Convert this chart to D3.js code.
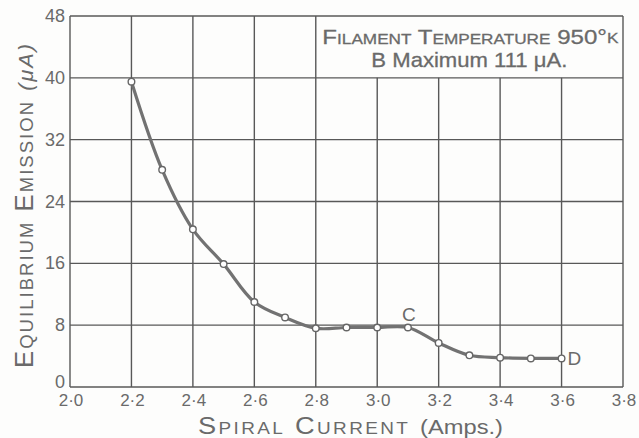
<!DOCTYPE html>
<html>
<head>
<meta charset="utf-8">
<script src="https://cdn.jsdelivr.net/npm/d3@7"></script>
<style>
  body { margin: 0; background: #fdfdfc; }
  text { font-family: "Liberation Sans", Arial, sans-serif; fill: #6a6a6a; }
</style>
</head>
<body>
<div id="chart"></div>
<script>
// readings
const current = [2.2, 2.3, 2.4, 2.5, 2.6, 2.7, 2.8, 2.9, 3.0, 3.1, 3.2, 3.3, 3.4, 3.5, 3.6];
const emission = [39.5, 28.1, 20.4, 15.9, 11.0, 9.0, 7.6, 7.7, 7.7, 7.7, 5.7, 4.1, 3.8, 3.7, 3.7];
const xTicks = [2.0, 2.2, 2.4, 2.6, 2.8, 3.0, 3.2, 3.4, 3.6, 3.8];
const yTicks = [0, 8, 16, 24, 32, 40, 48];
const pointLabels = [{ name: "C", x: 3.1, y: 7.7 }, { name: "D", x: 3.6, y: 3.7 }];

const width = 639;
const height = 438;
const gridInk = "#585858";

const svg = d3.select("#chart")
    .append("svg")
    .attr("width", width)
    .attr("height", height);

const x = d3.scaleLinear().domain([2.0, 3.8]).range([70, 623]);
const y = d3.scaleLinear().domain([0, 48]).range([387, 16]);

const fmt = d => d3.format(".1f")(d).replace(".", "·");

// grid - the box for the title blanks the upper right cells
const grid = svg.append("g").attr("stroke", gridInk).attr("stroke-width", 1.4);
xTicks.forEach(t => {
    const top = (t > 2.81 && t < 3.79) ? y(40) : y(48);
    grid.append("line")
        .attr("x1", x(t)).attr("x2", x(t))
        .attr("y1", top).attr("y2", y(0));
});
yTicks.forEach(t => {
    grid.append("line")
        .attr("x1", x(2.0)).attr("x2", x(3.8))
        .attr("y1", y(t)).attr("y2", y(t));
});

// tick labels
svg.append("g").selectAll("text")
    .data(xTicks).enter().append("text")
    .attr("x", d => x(d) + 1)
    .attr("y", 406)
    .attr("text-anchor", "middle")
    .attr("font-size", 17)
    .text(fmt);

svg.append("g").selectAll("text")
    .data(yTicks).enter().append("text")
    .attr("x", 65)
    .attr("y", d => d === 0 ? y(d) + 1 : y(d) + 6)
    .attr("text-anchor", "end")
    .attr("font-size", 18)
    .text(d => d);

// curve
const pts = current.map((c, i) => [c, emission[i]]);
const line = d3.line()
    .x(d => x(d[0]))
    .y(d => y(d[1]))
    .curve(d3.curveCatmullRom.alpha(0.5));

svg.append("path")
    .datum(pts)
    .attr("d", line)
    .attr("fill", "none")
    .attr("stroke", "#727272")
    .attr("stroke-width", 3.2);

svg.append("g").selectAll("circle")
    .data(pts).enter().append("circle")
    .attr("cx", d => x(d[0]))
    .attr("cy", d => y(d[1]))
    .attr("r", 3.3)
    .attr("fill", "#fff")
    .attr("stroke", "#666")
    .attr("stroke-width", 1.4);

svg.append("text")
    .attr("x", x(pointLabels[0].x) + 1)
    .attr("y", y(pointLabels[0].y) - 6)
    .attr("text-anchor", "middle")
    .attr("font-size", 19)
    .text(pointLabels[0].name);

svg.append("text")
    .attr("x", x(pointLabels[1].x) + 6)
    .attr("y", y(pointLabels[1].y) + 7)
    .attr("font-size", 19)
    .text(pointLabels[1].name);

// title box
const title = svg.append("text")
    .attr("x", (x(2.8) + x(3.8)) / 2 + 1)
    .attr("y", 44)
    .attr("text-anchor", "middle")
    .attr("font-size", 21)
    .style("font-variant", "small-caps")
    .attr("textLength", 296)
    .attr("lengthAdjust", "spacingAndGlyphs")
    .attr("stroke", "#6a6a6a")
    .attr("stroke-width", 0.3)
    .text("Filament Temperature 950°");
title.append("tspan").attr("font-size", 15).attr("dy", -1).text("K");

svg.append("text")
    .attr("x", (x(2.8) + x(3.8)) / 2)
    .attr("y", 67)
    .attr("text-anchor", "middle")
    .attr("font-size", 21)
    .attr("textLength", 196)
    .attr("lengthAdjust", "spacingAndGlyphs")
    .attr("stroke", "#6a6a6a")
    .attr("stroke-width", 0.3)
    .text("B Maximum 111 μA.");

// axis titles
const xl = svg.append("text")
    .attr("x", 198)
    .attr("y", 434)
    .attr("font-size", 23)
    .attr("textLength", 305)
    .attr("lengthAdjust", "spacingAndGlyphs")
    .style("letter-spacing", "2px");
xl.append("tspan").style("font-variant", "small-caps").text("Spiral Current ");
xl.append("tspan").attr("font-size", 20).style("letter-spacing", "0px").text("(Amps.)");

const yl = svg.append("text")
    .attr("transform", "translate(33,368) rotate(-90)")
    .attr("font-size", 25)
    .attr("textLength", 326)
    .attr("lengthAdjust", "spacingAndGlyphs")
    .style("letter-spacing", "2px");
yl.append("tspan").style("font-variant", "small-caps").text("Equilibrium Emission ");
yl.append("tspan").attr("font-size", 21).style("font-style", "italic").text("(μA)");
</script>
</body>
</html>
